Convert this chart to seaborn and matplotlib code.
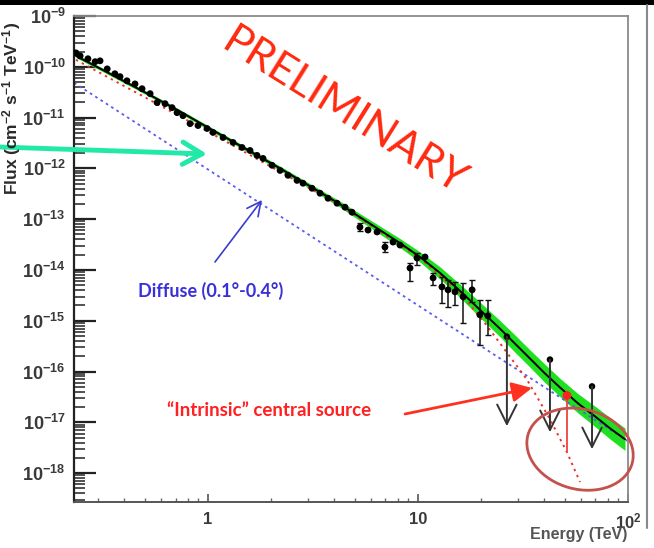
import numpy as np
import matplotlib
matplotlib.use("Agg")
import matplotlib.pyplot as plt
import matplotlib.transforms as mtransforms
from matplotlib.patches import Ellipse, Rectangle
from matplotlib.lines import Line2D
from matplotlib.ticker import LogLocator, NullFormatter
import seaborn as sns

# ---- measured spectrum: energy [TeV], flux [cm^-2 s^-1 TeV^-1] ----
energy = [0.235, 0.246, 0.268, 0.290, 0.306, 0.331, 0.360, 0.381, 0.411, 0.449,
          0.485, 0.530, 0.572, 0.624, 0.674, 0.712, 0.760, 0.821, 0.896, 0.989,
          1.056, 1.179, 1.315, 1.452, 1.585, 1.711, 1.828, 2.017, 2.203, 2.404,
          2.653, 2.833, 3.127, 3.415, 3.727, 4.113, 4.490, 4.85, 5.29, 5.78,
          6.38, 6.96, 7.60, 8.21, 9.16, 9.89, 10.8, 11.8, 13.0, 13.9,
          15.0, 16.4, 18.1, 19.7, 21.5]
flux = [1.88e-10, 1.64e-10, 1.44e-10, 1.26e-10, 1.31e-10, 9.1e-11, 7.3e-11, 6.4e-11, 5.3e-11, 4.6e-11,
        3.7e-11, 2.96e-11, 1.97e-11, 1.88e-11, 1.57e-11, 1.25e-11, 1.09e-11, 7.6e-12, 6.97e-12, 6.1e-12,
        5.1e-12, 4.06e-12, 3.24e-12, 2.58e-12, 2.25e-12, 1.80e-12, 1.57e-12, 1.15e-12, 9.1e-13, 7.3e-13,
        5.8e-13, 5.1e-13, 4.06e-13, 3.24e-13, 2.58e-13, 2.06e-13, 1.72e-13, 1.37e-13, 6.97e-14, 6.1e-14,
        5.6e-14, 2.82e-14, 3.54e-14, 3.09e-14, 1.09e-14, 1.72e-14, 1.80e-14, 6.97e-15, 4.64e-15, 4.06e-15,
        3.71e-15, 2.96e-15, 4.06e-15, 1.31e-15, 1.25e-15]

# points whose error bars are wider than the marker
err_energy = [5.29, 6.96, 9.16, 9.89, 11.8, 13.0, 13.9, 15.0, 16.4, 18.1, 19.7, 21.5]
err_flux = [6.97e-14, 2.82e-14, 1.09e-14, 1.72e-14, 6.97e-15, 4.64e-15, 4.06e-15, 3.71e-15,
            2.96e-15, 4.06e-15, 1.31e-15, 1.25e-15]
err_flux_lo = [5.82e-14, 2.25e-14, 6.08e-15, 1.25e-14, 5.08e-15, 2.25e-15, 1.88e-15, 2.06e-15,
               9.1e-16, 2.36e-15, 3.38e-16, 5.31e-16]
err_flux_hi = [8.35e-14, 3.54e-14, 1.37e-14, 2.15e-14, 8.73e-15, 7.3e-15, 6.37e-15, 5.82e-15,
               5.56e-15, 6.37e-15, 2.58e-15, 2.58e-15]

# upper limits
ul_energy = [26.5, 42.5, 67.4]
ul_flux = [4.85e-16, 1.72e-16, 5.1e-17]
ul_arrow_end = [8.4e-18, 6.4e-18, 2.96e-18]

# total fit with its uncertainty band
fit_energy = [0.2351, 0.3415, 0.4746, 0.6963, 1.0, 1.500, 2.203, 3.061, 4.253, 5.294,
              6.592, 8.210, 10.22, 12.73, 15.85, 19.73, 24.58, 28.97, 34.15, 40.26,
              47.46, 57.80, 69.66, 82.09, 96.76]
fit_flux = [1.643e-10, 7.29e-11, 3.54e-11, 1.50e-11, 6.37e-12, 2.47e-12, 1.0e-12, 4.44e-13, 1.97e-13, 1.09e-13,
            6.08e-14, 3.38e-14, 1.80e-14, 8.73e-15, 3.87e-15, 1.64e-15, 6.97e-16, 3.54e-16, 1.80e-16, 9.14e-17,
            4.85e-17, 2.36e-17, 1.31e-17, 7.62e-18, 4.65e-18]
band_lo = [1.516e-10, 6.73e-11, 3.27e-11, 1.38e-11, 5.81e-12, 2.25e-12, 9.02e-13, 3.96e-13, 1.72e-13, 9.28e-14,
           5.06e-14, 2.75e-14, 1.43e-14, 6.62e-15, 2.87e-15, 1.16e-15, 4.82e-16, 2.39e-16, 1.217e-16, 6.04e-17,
           3.20e-17, 1.524e-17, 8.26e-18, 4.70e-18, 2.80e-18]
band_hi = [1.781e-10, 7.90e-11, 3.84e-11, 1.63e-11, 6.98e-12, 2.71e-12, 1.109e-12, 4.98e-13, 2.26e-13, 1.28e-13,
           7.31e-14, 4.16e-14, 2.27e-14, 1.15e-14, 5.22e-15, 2.32e-15, 1.007e-15, 5.24e-16, 2.66e-16, 1.384e-16,
           7.34e-17, 3.66e-17, 2.08e-17, 1.236e-17, 7.72e-18]

# diffuse emission (0.1-0.4 deg) power law
diffuse_energy = [0.23, 100.0]
diffuse_flux = [4.85e-11, 4.24e-18]

# intrinsic central source
intrinsic_energy = [0.235, 1.0, 4.25, 10.2, 15.85, 21.3, 26.5, 33.0, 42.5, 51.2, 59.1]
intrinsic_flux = [1.37e-10, 5.3e-12, 1.88e-13, 1.72e-14, 3.54e-15, 7.98e-16, 2.36e-16,
                  6.97e-17, 1.15e-17, 2.58e-18, 6.67e-19]
intrinsic_pt_energy = 51.2
intrinsic_pt_flux = 3.38e-17
intrinsic_pt_base = 2.7e-18

# axis ticks
x_ticks = [1, 10, 100]
x_tick_labels = ["1", "10", r"$\mathbf{10^{2}}$"]
y_exponents = [-18, -17, -16, -15, -14, -13, -12, -11, -10, -9]

# ---------------------------------------------------------------------------
sns.set_style("white")
plt.rcParams["font.family"] = ["Liberation Sans", "DejaVu Sans"]
plt.rcParams["mathtext.fontset"] = "custom"
plt.rcParams["mathtext.rm"] = "Liberation Sans"
plt.rcParams["mathtext.bf"] = "Liberation Sans:bold"
plt.rcParams["mathtext.default"] = "bf"

W, H = 654, 548
fig = plt.figure(figsize=(W / 100, H / 100), dpi=100)
fig.patch.set_facecolor("white")
ax = fig.add_axes([74 / W, 1 - 502 / H, (628 - 74) / W, (502 - 16) / H])
ax.set_xscale("log")
ax.set_yscale("log")
ax.set_xlim(0.23, 100)
ax.set_ylim(2.7e-19, 1e-9)

# fit band and central curve
ax.fill_between(fit_energy, band_lo, band_hi, color="#1ee01e", lw=0, zorder=2)
sns.lineplot(x=fit_energy, y=fit_flux, ax=ax, color="black", lw=1.4,
             sort=False, estimator=None, zorder=3)

# diffuse and intrinsic components
sns.lineplot(x=diffuse_energy, y=diffuse_flux, ax=ax, color="#5a5cf0", lw=1.3,
             linestyle=(0, (1.5, 2.0)), sort=False, estimator=None, zorder=2.5)
sns.lineplot(x=intrinsic_energy, y=intrinsic_flux, ax=ax, color="#f0302a", lw=1.4,
             linestyle=(0, (1.2, 2.2)), sort=False, estimator=None, zorder=2.6)

# data points
ax.errorbar(err_energy, err_flux,
            yerr=[np.subtract(err_flux, err_flux_lo), np.subtract(err_flux_hi, err_flux)],
            fmt="none", ecolor="#111111", elinewidth=1.1, capsize=2, capthick=1.0, zorder=4)
sns.scatterplot(x=energy, y=flux, ax=ax, color="black", s=24, edgecolor="none", zorder=5)
sns.scatterplot(x=ul_energy, y=ul_flux, ax=ax, color="black", s=22, edgecolor="none", zorder=5)
for e, f, f_end in zip(ul_energy, ul_flux, ul_arrow_end):
    ax.annotate("", xy=(e, f_end), xytext=(e, f),
                arrowprops=dict(arrowstyle="->,head_length=0.7,head_width=0.35",
                                color="#333333", lw=1.4, mutation_scale=20,
                                shrinkA=0, shrinkB=0), zorder=5)

# intrinsic flux at the high-energy point
ax.plot([intrinsic_pt_energy, intrinsic_pt_energy], [intrinsic_pt_flux, intrinsic_pt_base],
        color="#f04040", lw=1.3, zorder=5)
sns.scatterplot(x=[intrinsic_pt_energy], y=[intrinsic_pt_flux], ax=ax, color="#ff2020",
                s=40, edgecolor="none", zorder=6)

# circled cut-off region
ell_tr = fig.dpi_scale_trans + mtransforms.ScaledTranslation(59.1, 2.96e-18, ax.transData)
ax.add_patch(Ellipse((0, 0), 1.08, 0.80, angle=-15, transform=ell_tr,
                     fill=False, edgecolor="#c4514c", lw=2.0, zorder=6, clip_on=False))

# axes styling
ax.set_xticks(x_ticks)
ax.set_xticklabels(x_tick_labels)
ax.xaxis.set_minor_locator(LogLocator(base=10, subs=np.arange(2, 10), numticks=100))
ax.xaxis.set_minor_formatter(NullFormatter())
ax.set_yticks([10.0 ** p for p in y_exponents])
ax.set_yticklabels([r"$\mathbf{10^{%d}}$" % p for p in y_exponents])
ax.yaxis.set_minor_locator(LogLocator(base=10, subs=np.arange(2, 10), numticks=100))
ax.yaxis.set_minor_formatter(NullFormatter())

ax.tick_params(axis="y", which="major", direction="in", length=16, width=1.6,
               color="#222222", labelsize=13, labelcolor="#3a3a3a", pad=6,
               left=True, right=False)
ax.tick_params(axis="y", which="minor", direction="in", length=8, width=1.2,
               color="#333333", left=True, right=False)
ax.tick_params(axis="x", which="major", direction="in", length=6, width=1.2,
               color="#555555", labelsize=12, labelcolor="#3a3a3a", pad=7,
               bottom=True, top=False)
ax.tick_params(axis="x", which="minor", direction="in", length=3, width=1.0,
               color="#666666", bottom=True, top=False)
for lab in ax.get_xticklabels():
    lab.set_fontweight("bold")

ax.spines["left"].set_color("#222222")
ax.spines["left"].set_linewidth(1.6)
ax.spines["bottom"].set_color("#555555")
ax.spines["bottom"].set_linewidth(1.4)
for s in ("top", "right"):
    ax.spines[s].set_color("#8a8a8a")
    ax.spines[s].set_linewidth(1.3)

fig.text(12 / W, 1 - 108 / H, r"Flux (cm$^{-2}$ s$^{-1}$ TeV$^{-1}$)", rotation=90,
         ha="center", va="center", fontsize=12.5, fontweight="bold", color="#2a2a2a")
fig.text(627 / W, 1 - 535 / H, "Energy (TeV)", ha="right", va="center",
         fontsize=11.5, fontweight="bold", color="#555555")

# annotations
fig.text(344 / W, 1 - 112 / H, "PRELIMINARY", rotation=-32, rotation_mode="anchor",
         ha="center", va="center", fontsize=31, color="#ff2a10", family="Lato")
fig.text(211 / W, 1 - 291 / H, "Diffuse (0.1°-0.4°)", ha="center", va="center",
         fontsize=13, fontweight="bold", color="#3a2fd8", family="Lato")
fig.text(269 / W, 1 - 411 / H, "\u201cIntrinsic\u201d central source", ha="center", va="center",
         fontsize=13.5, fontweight="bold", color="#ff2020", family="Lato")

ax.annotate("", xy=(207 / W, 1 - 154 / H), xytext=(0, 1 - 147 / H),
            xycoords="figure fraction", textcoords="figure fraction",
            arrowprops=dict(arrowstyle="->,head_length=0.7,head_width=0.4", color="#22e8a8",
                            lw=3.5, mutation_scale=20, shrinkA=0, shrinkB=0),
            annotation_clip=False, zorder=7)
ax.annotate("", xy=(262 / W, 1 - 200 / H), xytext=(215 / W, 1 - 262 / H),
            xycoords="figure fraction", textcoords="figure fraction",
            arrowprops=dict(arrowstyle="->,head_length=0.5,head_width=0.25", color="#3b3bd0",
                            lw=1.2, mutation_scale=20, shrinkA=0, shrinkB=0),
            annotation_clip=False, zorder=7)
ax.annotate("", xy=(532 / W, 1 - 388 / H), xytext=(405 / W, 1 - 414 / H),
            xycoords="figure fraction", textcoords="figure fraction",
            arrowprops=dict(arrowstyle="-|>,head_length=0.6,head_width=0.3", color="#ff3020",
                            lw=2.0, mutation_scale=20, shrinkA=0, shrinkB=0),
            annotation_clip=False, zorder=7)

# slide frame: dark strip along the top and a thin rule on the right
fig.add_artist(Rectangle((0, 1 - 5 / H), 1, 5 / H, transform=fig.transFigure,
                         color="black", lw=0))
fig.add_artist(Line2D([647 / W, 647 / W], [1 - 528 / H, 1 - 5 / H], transform=fig.transFigure,
                      color="#888888", lw=1.5))

fig.savefig("out.png", dpi=100)
